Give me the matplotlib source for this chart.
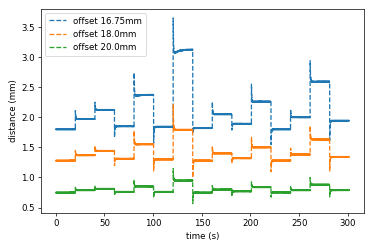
import numpy as np
import matplotlib
matplotlib.use("Agg")
import matplotlib.pyplot as plt

# step length (s) and number of 20 s steps
seg_len = 20.1
n_seg = 15

labels = ["offset 16.75mm", "offset 18.0mm", "offset 20.0mm"]

# plateau level of each step (mm)
blue_levels = [1.80, 1.97, 2.12, 1.85, 2.37, 1.84, 3.12, 1.82, 2.05, 1.89, 2.26, 1.80, 2.00, 2.59, 1.94]
orange_levels = [1.28, 1.37, 1.44, 1.31, 1.55, 1.30, 1.79, 1.28, 1.40, 1.32, 1.50, 1.28, 1.38, 1.63, 1.34]
green_levels = [0.75, 0.79, 0.81, 0.76, 0.85, 0.76, 0.95, 0.75, 0.80, 0.77, 0.84, 0.75, 0.79, 0.88, 0.79]

# overshoot peak at each step change (14 changes)
blue_peaks = [2.10, 2.24, 1.66, 2.73, 1.56, 3.64, 1.73, 2.25, 1.78, 2.54, 1.54, 2.13, 2.93, 1.61]
orange_peaks = [1.44, 1.52, 1.19, 1.77, 1.10, 2.20, 0.99, 1.52, 1.23, 1.66, 1.09, 1.48, 1.85, 1.10]
green_peaks = [0.83, 0.85, 0.71, 0.96, 0.66, 1.14, 0.56, 0.86, 0.70, 0.92, 0.67, 0.84, 0.99, 0.67]

# value the trace settles from after the overshoot (slow creep on the big step)
blue_start = [1.80, 1.97, 2.12, 1.85, 2.35, 1.84, 3.03, 1.82, 2.05, 1.89, 2.25, 1.80, 2.00, 2.59, 1.94]
orange_start = orange_levels
green_start = green_levels

dt = 0.05
t = np.arange(0, seg_len * n_seg, dt)


def trace(levels, peaks, starts):
    y = np.zeros_like(t)
    for k in range(n_seg):
        t0 = k * seg_len
        m = (t >= t0 - 1e-9) & (t < t0 + seg_len - 1e-9)
        tt = t[m] - t0
        v = levels[k] - (levels[k] - starts[k]) * np.exp(-tt / 4.0)
        if k > 0:
            v = v + (peaks[k - 1] - v[0]) * np.exp(-tt / 0.35)
        y[m] = v
    # small sensor ripple
    y = y + 0.007 * (-1.0) ** np.arange(len(y))
    return y


fig = plt.figure(figsize=(6, 4), dpi=374 / 6)
ax = fig.add_subplot(111)
fig.subplots_adjust(left=0.110, right=0.973, top=0.964, bottom=0.145)

ax.plot(t, trace(blue_levels, blue_peaks, blue_start), "--", label=labels[0])
ax.plot(t, trace(orange_levels, orange_peaks, orange_start), "--", label=labels[1])
ax.plot(t, trace(green_levels, green_peaks, green_start), "--", label=labels[2])

ax.set_xlabel("time (s)")
ax.set_ylabel("distance (mm)")
ax.legend(loc="upper left")

fig.savefig("out.png", dpi=374 / 6)
